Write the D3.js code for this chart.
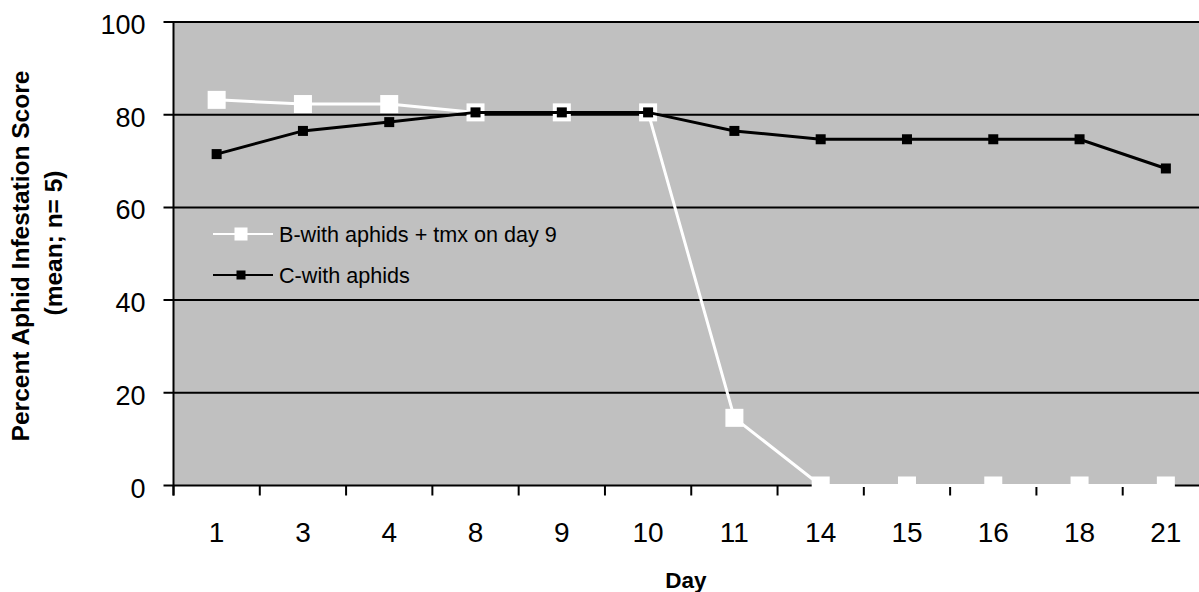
<!DOCTYPE html>
<html>
<head>
<meta charset="utf-8">
<script src="https://cdn.jsdelivr.net/npm/d3@7"></script>
<style>
  body { margin: 0; background: #fff; }
  svg { display: block; font-family: Arial, "Liberation Sans", sans-serif; }
</style>
</head>
<body>
<div id="chart"></div>
<script>
// chart values
var days = ["1", "3", "4", "8", "9", "10", "11", "14", "15", "16", "18", "21"];
var seriesB = [83.2, 82.3, 82.3, 80.5, 80.5, 80.5, 14.6, 0, 0, 0, 0, 0];
var seriesC = [71.5, 76.5, 78.4, 80.5, 80.5, 80.5, 76.5, 74.7, 74.7, 74.7, 74.7, 68.4];
var yTicks = [0, 20, 40, 60, 80, 100];
var legendLabels = ["B-with aphids + tmx on day 9", "C-with aphids"];

var W = 1199, H = 592;
var margin = {left: 173.5, top: 22};
var plotW = 1035.5, plotH = 463.5;

var svg = d3.select("#chart").append("svg")
    .attr("width", W)
    .attr("height", H);

var g = svg.append("g")
    .attr("transform", "translate(" + margin.left + "," + margin.top + ")");

var x = d3.scaleBand()
    .domain(days)
    .range([0, plotW]);

var y = d3.scaleLinear()
    .domain([0, 100])
    .range([plotH, 0]);

// plot background
g.append("rect")
    .attr("width", plotW)
    .attr("height", plotH)
    .attr("fill", "#c0c0c0");

// gridlines + outer ticks
g.append("g").selectAll("line")
    .data(yTicks)
    .enter().append("line")
    .attr("x1", -10)
    .attr("x2", plotW)
    .attr("y1", function(d) { return y(d); })
    .attr("y2", function(d) { return y(d); })
    .attr("stroke", "#000")
    .attr("stroke-width", 2);

// y tick labels
g.append("g").selectAll("text")
    .data(yTicks)
    .enter().append("text")
    .attr("x", -28)
    .attr("y", function(d) { return y(d) + 12; })
    .attr("text-anchor", "end")
    .attr("font-size", 27)
    .text(function(d) { return d; });

// left axis line
g.append("line")
    .attr("x1", 0).attr("x2", 0)
    .attr("y1", 0).attr("y2", plotH + 10)
    .attr("stroke", "#000")
    .attr("stroke-width", 2);

// x ticks at band edges
var edges = days.map(function(d) { return x(d); }).concat([plotW]);
g.append("g").selectAll("line")
    .data(edges)
    .enter().append("line")
    .attr("x1", function(d) { return d; })
    .attr("x2", function(d) { return d; })
    .attr("y1", plotH)
    .attr("y2", plotH + 10)
    .attr("stroke", "#000")
    .attr("stroke-width", 2);

// x tick labels via axis
var xAxis = g.append("g")
    .attr("transform", "translate(0," + plotH + ")")
    .call(d3.axisBottom(x).tickSize(0).tickPadding(0));
xAxis.select(".domain").remove();
xAxis.selectAll("text")
    .attr("dy", null)
    .attr("y", 56.5)
    .attr("font-size", 28)
    .attr("font-family", "Arial, 'Liberation Sans', sans-serif")
    .attr("fill", "#000");

var cx = function(d, i) { return x(days[i]) + x.bandwidth() / 2; };
var line = d3.line()
    .x(cx)
    .y(function(d) { return y(d); });

// series B (white)
g.append("path")
    .attr("d", line(seriesB))
    .attr("fill", "none")
    .attr("stroke", "#fff")
    .attr("stroke-width", 3);
g.append("g").selectAll("rect")
    .data(seriesB)
    .enter().append("rect")
    .attr("x", function(d, i) { return cx(d, i) - 9; })
    .attr("y", function(d) { return y(d) - 9; })
    .attr("width", 18)
    .attr("height", 18)
    .attr("fill", "#fff");

// series C (black)
g.append("path")
    .attr("d", line(seriesC))
    .attr("fill", "none")
    .attr("stroke", "#000")
    .attr("stroke-width", 3);
g.append("g").selectAll("rect")
    .data(seriesC)
    .enter().append("rect")
    .attr("x", function(d, i) { return cx(d, i) - 5; })
    .attr("y", function(d) { return y(d) - 5; })
    .attr("width", 10)
    .attr("height", 10)
    .attr("fill", "#000");

// legend
var legend = svg.append("g");
var legendY = [234, 275];
var legendColor = ["#fff", "#000"];
var legendMark = [13, 9];
legendLabels.forEach(function(lbl, i) {
    var row = legend.append("g").attr("transform", "translate(0," + legendY[i] + ")");
    row.append("line")
        .attr("x1", 213).attr("x2", 273)
        .attr("stroke", legendColor[i])
        .attr("stroke-width", 2);
    row.append("rect")
        .attr("x", 241 - legendMark[i] / 2)
        .attr("y", -legendMark[i] / 2)
        .attr("width", legendMark[i])
        .attr("height", legendMark[i])
        .attr("fill", legendColor[i]);
    row.append("text")
        .attr("x", 279)
        .attr("y", 7.5)
        .attr("font-size", 21.6)
        .text(lbl);
});

// axis titles
svg.append("text")
    .attr("transform", "translate(29,256) rotate(-90)")
    .attr("text-anchor", "middle")
    .attr("font-size", 24.5)
    .attr("font-weight", "bold")
    .text("Percent Aphid Infestation Score");
svg.append("text")
    .attr("transform", "translate(62,243) rotate(-90)")
    .attr("text-anchor", "middle")
    .attr("font-size", 24.5)
    .attr("font-weight", "bold")
    .text("(mean; n= 5)");
svg.append("text")
    .attr("x", 686)
    .attr("y", 588)
    .attr("text-anchor", "middle")
    .attr("font-size", 22.5)
    .attr("font-weight", "bold")
    .text("Day");
</script>
</body>
</html>
